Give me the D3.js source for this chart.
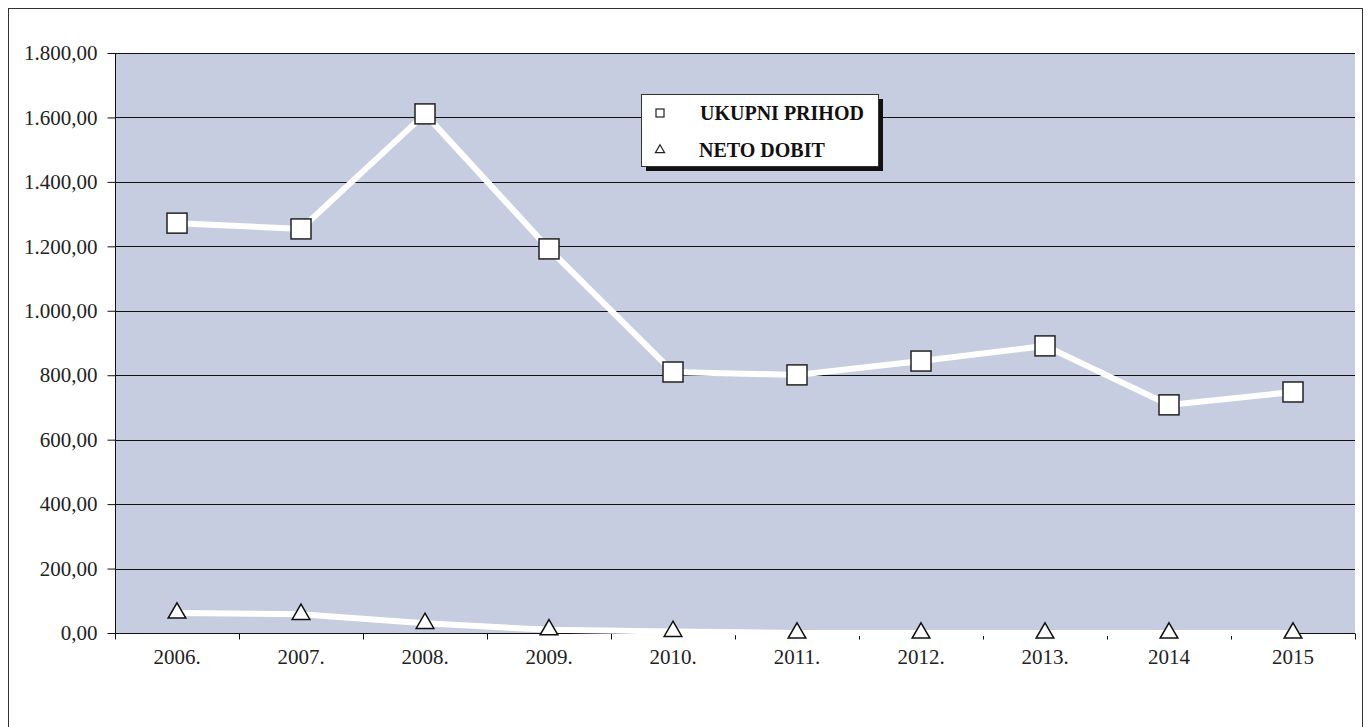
<!DOCTYPE html>
<html>
<head>
<meta charset="utf-8">
<script src="https://cdn.jsdelivr.net/npm/d3@7"></script>
<style>
  body { margin: 0; background: #fff; }
  text { font-family: "Liberation Serif", "Times New Roman", serif; }
</style>
</head>
<body>
<div id="chart"></div>
<script>
const years = ["2006.", "2007.", "2008.", "2009.", "2010.", "2011.", "2012.", "2013.", "2014", "2015"]
const ukupniPrihod = [1272, 1254, 1611, 1192, 810, 801, 844, 891, 708, 748]
const netoDobit = [62, 58, 30, 10, 5, 0, 0, 0, 0, 0]
const yTicks = [0, 200, 400, 600, 800, 1000, 1200, 1400, 1600, 1800]

const width = 1370
const height = 727
const margin = { left: 115, right: 15, top: 53, bottom: 94 }

const svg = d3.select("#chart")
    .append("svg")
    .attr("width", width)
    .attr("height", height)

// outer frame
svg.append("rect")
    .attr("x", 8.5).attr("y", 8.5)
    .attr("width", 1354).attr("height", 740)
    .attr("fill", "none")
    .attr("stroke", "#333")
    .attr("stroke-width", 1)

const x = d3.scaleBand()
    .domain(years)
    .range([margin.left, width - margin.right])

const y = d3.scaleLinear()
    .domain([0, 1800])
    .range([height - margin.bottom, margin.top])

// plot background
svg.append("rect")
    .attr("x", margin.left)
    .attr("y", margin.top)
    .attr("width", width - margin.left - margin.right)
    .attr("height", y(0) - margin.top)
    .attr("fill", "#c6cde1")

// gridlines
svg.append("g")
    .selectAll("line")
    .data(yTicks.filter(d => d > 0))
    .enter()
    .append("line")
    .attr("x1", margin.left)
    .attr("x2", width - margin.right)
    .attr("y1", d => Math.round(y(d)) + 0.5)
    .attr("y2", d => Math.round(y(d)) + 0.5)
    .attr("stroke", "#111")
    .attr("stroke-width", 1.2)

const numFmt = d => d3.format(",.2f")(d).replace(/,/g, "#").replace(".", ",").replace(/#/g, ".")

// y axis
const yAxis = svg.append("g")
    .attr("transform", `translate(${margin.left + 0.5},0)`)
    .call(d3.axisLeft(y)
        .tickValues(yTicks)
        .tickSize(8)
        .tickPadding(10)
        .tickFormat(numFmt))
yAxis.attr("font-family", "'Liberation Serif', serif").attr("font-size", 21)
yAxis.selectAll("text")
    .attr("font-size", 21)
    .attr("fill", "#222")
yAxis.selectAll("line, path").attr("stroke", "#111")
yAxis.select(".domain").attr("d", `M0,${y(1800)}V${y(0)}`)

// x axis
const xAxis = svg.append("g")
    .attr("transform", `translate(0,${Math.round(y(0)) + 0.5})`)
    .call(d3.axisBottom(x).tickSize(0).tickPadding(16))
xAxis.attr("font-family", "'Liberation Serif', serif").attr("font-size", 21)
xAxis.select(".domain").attr("stroke", "#111").attr("d", `M${margin.left},0H${width - margin.right}`)
xAxis.selectAll("text")
    .attr("font-size", 21)
    .attr("fill", "#222")

// category boundary ticks
const bounds = years.map(d => x(d)).concat([x(years[years.length - 1]) + x.bandwidth()])
xAxis.append("g")
    .selectAll("line")
    .data(bounds)
    .enter()
    .append("line")
    .attr("x1", d => Math.round(d) + 0.5)
    .attr("x2", d => Math.round(d) + 0.5)
    .attr("y1", 0)
    .attr("y2", 6)
    .attr("stroke", "#111")

const cx = d => x(d) + x.bandwidth() / 2

const line = d3.line()
    .x((d, i) => cx(years[i]))
    .y(d => y(d))

// NETO DOBIT
svg.append("path")
    .datum(netoDobit)
    .attr("d", line)
    .attr("fill", "none")
    .attr("stroke", "#fff")
    .attr("stroke-width", 6)

const tri = d3.symbol().type(d3.symbolTriangle).size(135)
svg.append("g")
    .selectAll("path")
    .data(netoDobit)
    .enter()
    .append("path")
    .attr("d", tri)
    .attr("transform", (d, i) => `translate(${cx(years[i])},${y(d)})`)
    .attr("fill", "#fff")
    .attr("stroke", "#111")
    .attr("stroke-width", 1.5)

// UKUPNI PRIHOD
svg.append("path")
    .datum(ukupniPrihod)
    .attr("d", line)
    .attr("fill", "none")
    .attr("stroke", "#fff")
    .attr("stroke-width", 6)

svg.append("g")
    .selectAll("rect")
    .data(ukupniPrihod)
    .enter()
    .append("rect")
    .attr("x", (d, i) => cx(years[i]) - 10)
    .attr("y", d => y(d) - 10)
    .attr("width", 20)
    .attr("height", 20)
    .attr("fill", "#fff")
    .attr("stroke", "#222")
    .attr("stroke-width", 1.5)

// legend
const lg = svg.append("g").attr("transform", "translate(641,94)")
lg.append("rect")
    .attr("x", 5).attr("y", 5)
    .attr("width", 237).attr("height", 72)
    .attr("fill", "#111")
lg.append("rect")
    .attr("x", 0.5).attr("y", 0.5)
    .attr("width", 237).attr("height", 72)
    .attr("fill", "#fff")
    .attr("stroke", "#333")

lg.append("rect")
    .attr("x", 15).attr("y", 15)
    .attr("width", 8).attr("height", 8)
    .attr("fill", "#fff")
    .attr("stroke", "#222")
    .attr("stroke-width", 1.2)
lg.append("path")
    .attr("d", d3.symbol().type(d3.symbolTriangle).size(36))
    .attr("transform", "translate(19,56)")
    .attr("fill", "#fff")
    .attr("stroke", "#222")
    .attr("stroke-width", 1.2)

lg.append("text")
    .attr("x", 59).attr("y", 26)
    .attr("font-size", 20).attr("font-weight", "bold")
    .attr("fill", "#111")
    .text("UKUPNI PRIHOD")
lg.append("text")
    .attr("x", 58).attr("y", 63)
    .attr("font-size", 20).attr("font-weight", "bold")
    .attr("fill", "#111")
    .text("NETO DOBIT")
</script>
</body>
</html>
